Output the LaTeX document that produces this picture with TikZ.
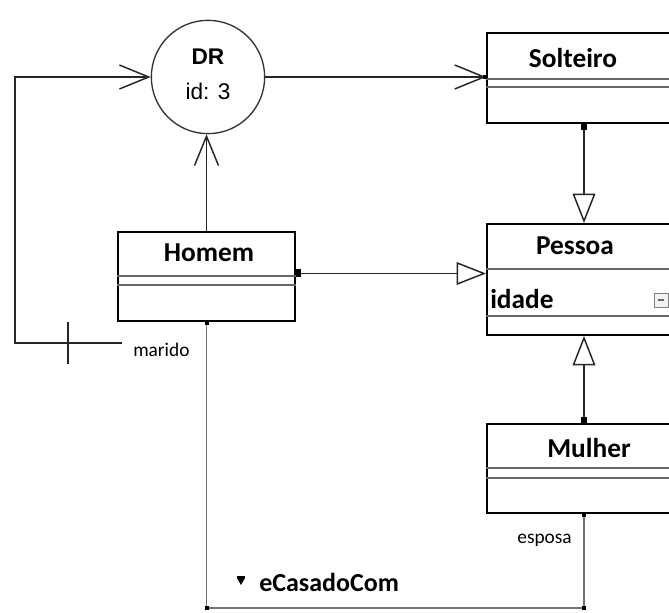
\documentclass[tikz,border=0pt]{standalone}
\usepackage{fontspec}
\setmainfont{Carlito}
\newfontfamily\arialf{Liberation Sans}
\usetikzlibrary{arrows.meta,calc}
\begin{document}
\begin{tikzpicture}[x=0.75pt,y=-0.75pt,
  cls/.style={draw=black,line width=1.5pt,fill=white,rectangle,anchor=north west,inner sep=0pt},
  ttl/.style={font=\bfseries\fontsize{20.5}{23}\selectfont,inner sep=0pt},
  lbl/.style={font=\fontsize{14.5}{17}\selectfont,inner sep=0pt},
  sep/.style={draw=black!60,line width=0.9pt},
  link/.style={draw=black!85,line width=1.1pt},
  assoc/.style={draw=black!55,line width=0.8pt},
  barb/.style={-{Straight Barb[length=22pt,width=18pt,line width=1.1pt]}},
  gen/.style={-{Triangle[open,length=22pt,width=17pt,line width=1.1pt]}},
  endmark/.style={fill=black}]
\useasboundingbox (0,0) rectangle (669,613);
\clip (0,0) rectangle (669,613);
\fill[white] (0,0) rectangle (669,613);

% classes
\node[cls,minimum width=145.5pt,minimum height=67.5pt] (solteiro) at (486,32) {};
\node[cls,minimum width=145.5pt,minimum height=83.25pt] (pessoa) at (486,223) {};
\node[cls,minimum width=132.75pt,minimum height=66.75pt] (homem) at (117,231) {};
\node[cls,minimum width=145.5pt,minimum height=66.75pt] (mulher) at (486,423) {};

% separators
\draw[sep] ($(solteiro.north west)+(0,47)$) -- ++(200,0);
\draw[sep] ($(solteiro.north west)+(0,55)$) -- ++(200,0);
\draw[sep,line width=1.4pt] ($(pessoa.north west)+(0,46)$) -- ++(200,0);
\draw[sep] ($(pessoa.north west)+(0,93)$) -- ++(200,0);
\draw[sep] ($(homem.north west)+(0,45)$) -- (homem.east |- 0,276);
\draw[sep] ($(homem.north west)+(0,54)$) -- (homem.east |- 0,285);
\draw[sep] ($(mulher.north west)+(0,45)$) -- ++(200,0);
\draw[sep] ($(mulher.north west)+(0,55)$) -- ++(200,0);

% titles
\node[ttl] (solteiroT) at (573,58) {Solteiro};
\node[ttl] (pessoaT) at (575,246) {Pessoa};
\node[ttl] (homemT) at (209,253) {Homem};
\node[ttl] (mulherT) at (589,448) {Mulher};
\node[ttl,anchor=west] (idade) at (490,299) {idade};
\node[draw=black!50,fill=black!5,line width=0.6pt,minimum size=10.5pt,inner sep=0pt] (icon) at (661,300) {};
\draw[black!60,line width=0.8pt] ($(icon.center)+(-3,0)$) -- ($(icon.center)+(3,0)$);

% DR circle
\node[draw=black!80,line width=1pt,circle,minimum size=85pt,inner sep=0pt,fill=white] (dr) at (208,77) {};
\node[font=\arialf\bfseries\fontsize{17}{19}\selectfont,inner sep=0pt] (drT) at (208,57) {DR};
\node[font=\arialf\fontsize{17}{19}\selectfont,inner sep=0pt] (drId) at (208,91) {id: 3};

% connectors
\coordinate (hs) at ($(homem.east)+(0,-3)$);
\draw[link,barb] (dr.east) -- (dr.east -| solteiro.west);
\draw[link,gen] (solteiro.south) -- (pessoa.north);
\draw[link,gen] (hs) -- (hs -| pessoa.west);
\draw[link,gen] (mulher.north) -- (pessoa.south);
\draw[link,barb] (homem.north) -- (homem.north |- dr.south);
\coordinate (mar) at (122,343);
\coordinate (corner1) at (15,343);
\coordinate (corner2) at (15,77);
\draw[link,barb] (mar) -- (corner1) -- (corner2) -- (dr.west);
\draw[link] (68,322) -- (68,364);
\coordinate (b1) at (homem.south |- 0,608);
\coordinate (b2) at (mulher.south |- 0,608);
\draw[assoc] (homem.south) -- (b1) -- (b2) -- (mulher.south);

% end markers
\fill[endmark] ($(solteiro.south)+(-3,0)$) rectangle ++(6,6);
\fill[endmark] ($(hs)+(0,-4)$) rectangle ++(5,8);
\fill[endmark] ($(mulher.north)+(-3,0)$) rectangle ++(6,-6);
\fill[endmark] ($(homem.south)+(-2,0)$) rectangle ++(4,3);
\fill[endmark] ($(mulher.south)+(-2,0)$) rectangle ++(4,3);
\fill[endmark] ($(b1)+(-2,-2)$) rectangle ++(4,4);
\fill[endmark] ($(b2)+(-2,-2)$) rectangle ++(4,4);
\fill[endmark] ($(dr.east -| solteiro.west)+(-3,-2)$) rectangle ++(4,4);

% labels
\node[lbl,anchor=west] (marido) at (133,350) {marido};
\node[lbl,anchor=east] (esposa) at (572,540) {esposa};
\fill[black] (237,578) -- (245,578) -- (241,585) -- cycle;
\draw[black,line width=0.8pt] (237,577) -- (245,577);
\node[ttl,anchor=west,font=\bfseries\fontsize{19.5}{22}\selectfont] (rel) at (259,582) {eCasadoCom};
\end{tikzpicture}
\end{document}
